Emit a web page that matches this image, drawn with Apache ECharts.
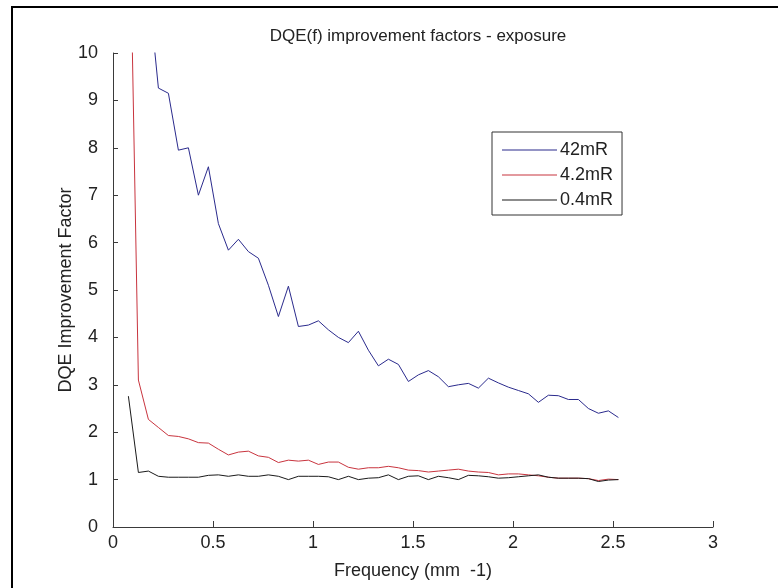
<!DOCTYPE html>
<html>
<head>
<meta charset="utf-8">
<script src="https://cdn.jsdelivr.net/npm/echarts@6/dist/echarts.min.js"></script>
<style>
  html, body { margin: 0; padding: 0; background: #fff; overflow: hidden; }
  #chart { width: 778px; height: 588px; }
</style>
</head>
<body>
<div id="chart"></div>
<script>
// DQE(f) improvement factors vs spatial frequency, three exposure levels
const freq = [0.077, 0.127, 0.177, 0.227, 0.277, 0.327, 0.377, 0.427, 0.477, 0.527,
              0.577, 0.627, 0.677, 0.727, 0.777, 0.827, 0.877, 0.927, 0.977, 1.027,
              1.077, 1.127, 1.177, 1.227, 1.277, 1.327, 1.377, 1.427, 1.477, 1.527,
              1.577, 1.627, 1.677, 1.727, 1.777, 1.827, 1.877, 1.927, 1.977, 2.027,
              2.077, 2.127, 2.177, 2.227, 2.277, 2.327, 2.377, 2.427, 2.477, 2.527];

const dqe42 = [20, 15, 11.4, 9.26, 9.15, 7.95, 8.0, 7.0, 7.6, 6.4,
               5.84, 6.07, 5.81, 5.67, 5.1, 4.44, 5.08, 4.23, 4.26, 4.35,
               4.16, 4.0, 3.89, 4.13, 3.73, 3.40, 3.54, 3.43, 3.07, 3.21,
               3.30, 3.17, 2.96, 3.0, 3.03, 2.93, 3.14, 3.04, 2.95, 2.88,
               2.81, 2.63, 2.78, 2.77, 2.69, 2.69, 2.50, 2.40, 2.45, 2.31];

const dqe4_2 = [14.6, 3.1, 2.27, 2.1, 1.93, 1.91, 1.86, 1.78, 1.77, 1.64,
                1.52, 1.58, 1.60, 1.50, 1.47, 1.36, 1.41, 1.39, 1.41, 1.32,
                1.37, 1.37, 1.26, 1.22, 1.25, 1.25, 1.28, 1.25, 1.20, 1.19,
                1.16, 1.18, 1.20, 1.22, 1.18, 1.16, 1.15, 1.10, 1.12, 1.12,
                1.10, 1.08, 1.05, 1.03, 1.03, 1.03, 1.02, 0.98, 1.01, 1.00];

const dqe0_4 = [2.76, 1.15, 1.18, 1.07, 1.05, 1.05, 1.05, 1.05, 1.09, 1.1,
                1.07, 1.1, 1.07, 1.07, 1.1, 1.07, 1.0, 1.07, 1.07, 1.07,
                1.06, 1.0, 1.07, 1.0, 1.03, 1.04, 1.1, 1.0, 1.07, 1.08,
                1.0, 1.07, 1.04, 1.0, 1.09, 1.08, 1.06, 1.03, 1.04, 1.06,
                1.08, 1.1, 1.05, 1.03, 1.03, 1.03, 1.02, 0.96, 0.99, 1.0];

const seriesNames = ['42mR', '4.2mR', '0.4mR'];
const seriesColors = ['#2a2a8c', '#c8343e', '#1a1a1a'];
const seriesValues = [dqe42, dqe4_2, dqe0_4];

const FONT = "'Liberation Sans', Arial, sans-serif";
const TEXT = '#222';
const AXIS = '#3a3a3a';

const pairs = (ys) => freq.map((f, i) => [f, ys[i]]);

const chart = echarts.init(document.getElementById('chart'));

chart.setOption({
    animation: false,
    backgroundColor: '#fff',
    title: {
        text: 'DQE(f) improvement factors - exposure',
        left: 413,
        top: 23,
        textAlign: 'center',
        textStyle: { fontFamily: FONT, fontSize: 17, fontWeight: 'normal', color: TEXT }
    },
    grid: { left: 113, right: 65, top: 53, bottom: 61 },
    legend: {
        orient: 'vertical',
        left: 492,
        top: 132,
        data: seriesNames.map((n) => ({ name: n, icon: 'rect' })),
        itemWidth: 55,
        itemHeight: 1.2,
        itemGap: 7,
        padding: [9, 9, 6, 10],
        borderColor: '#333',
        borderWidth: 1,
        backgroundColor: '#fff',
        textStyle: { fontFamily: FONT, fontSize: 18, color: TEXT, padding: [0, 0, 0, -2] }
    },
    xAxis: {
        type: 'value',
        min: 0,
        max: 3,
        interval: 0.5,
        name: 'Frequency (mm  -1)',
        nameLocation: 'middle',
        nameGap: 35,
        nameMoveOverlap: false,
        nameTextStyle: { fontFamily: FONT, fontSize: 18, color: TEXT },
        axisLine: { lineStyle: { color: AXIS, width: 1 } },
        axisTick: { inside: true, length: 6, lineStyle: { color: AXIS } },
        axisLabel: { fontFamily: FONT, fontSize: 18, color: TEXT, margin: 7 },
        splitLine: { show: false }
    },
    yAxis: {
        type: 'value',
        min: 0,
        max: 10,
        interval: 1,
        name: 'DQE Improvement Factor',
        nameLocation: 'middle',
        nameGap: 38,
        nameMoveOverlap: false,
        nameTextStyle: { fontFamily: FONT, fontSize: 18, color: TEXT },
        axisLine: { show: true, lineStyle: { color: AXIS, width: 1 } },
        axisTick: { show: true, inside: true, length: 5, lineStyle: { color: AXIS } },
        axisLabel: { fontFamily: FONT, fontSize: 18, color: TEXT, margin: 15 },
        splitLine: { show: false }
    },
    graphic: [
        // figure frame: only its top and left edges sit inside the window
        { type: 'line', shape: { x1: 11, y1: 7, x2: 778, y2: 7 },
          style: { stroke: '#000', lineWidth: 2 }, silent: true },
        { type: 'line', shape: { x1: 12, y1: 6, x2: 12, y2: 588 },
          style: { stroke: '#000', lineWidth: 2 }, silent: true }
    ],
    series: seriesNames.map((name, i) => ({
        name: name,
        type: 'line',
        data: pairs(seriesValues[i]),
        showSymbol: false,
        symbol: 'none',
        clip: true,
        color: seriesColors[i],
        lineStyle: { color: seriesColors[i], width: 1 }
    }))
});
</script>
</body>
</html>
